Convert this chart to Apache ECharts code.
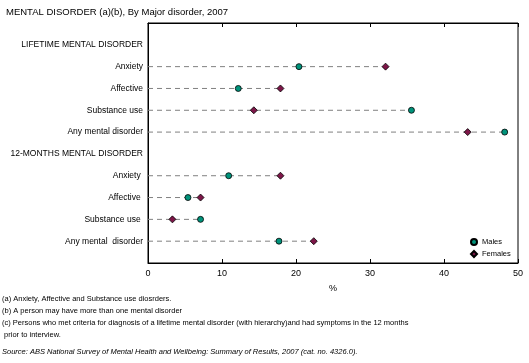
<!DOCTYPE html>
<html><head><meta charset="utf-8">
<script src="https://cdn.jsdelivr.net/npm/echarts@6/dist/echarts.min.js"></script>
<style>html,body{margin:0;padding:0;background:#fff}#c{width:529px;height:363px}</style>
</head><body><div id="c"></div>
<script>
var categories = ['', 'LIFETIME MENTAL DISORDER', 'Anxiety', 'Affective', 'Substance use', 'Any mental disorder',
  '12-MONTHS MENTAL DISORDER', 'Anxiety ', 'Affective ', 'Substance use ', 'Any mental  disorder', ' '];
var males   = [null, null, 20.4, 12.2, 35.6, 48.2, null, 10.9, 5.4, 7.1, 17.7, null];
var females = [null, null, 32.1, 17.9, 14.3, 43.2, null, 17.9, 7.1, 3.3, 22.4, null];
var xTicks = [0, 10, 20, 30, 40, 50];

var maleColor = '#00937b', femaleColor = '#7d1648';
var font = 'Liberation Sans, Arial, sans-serif';

var lineData = [];
for (var i = 0; i < categories.length; i++) {
  if (males[i] != null || females[i] != null) {
    lineData.push([Math.max(males[i] || 0, females[i] || 0), i]);
  }
}
function pts(arr) { var r = []; arr.forEach(function (v, i) { if (v != null) r.push([v, i]); }); return r; }

var chart = echarts.init(document.getElementById('c'));
chart.setOption({
  animation: false,
  textStyle: { fontFamily: font },
  grid: { left: 148, right: 11, top: 23, bottom: 100, show: true, borderColor: '#000', borderWidth: 1 },
  title: { text: 'MENTAL DISORDER (a)(b), By Major disorder, 2007', left: 1, top: 2,
    textStyle: { fontSize: 9.5, fontWeight: 'normal', color: '#000', fontFamily: font } },
  legend: { orient: 'vertical', left: 465, top: 233, itemWidth: 6, itemHeight: 6, itemGap: 4,
    textStyle: { fontSize: 7.5, color: '#000', fontFamily: font }, data: ['Males', 'Females'] },
  xAxis: [{
    type: 'value', min: xTicks[0], max: xTicks[xTicks.length - 1], interval: 10,
    name: '%', nameLocation: 'middle', nameGap: 21, nameTextStyle: { fontSize: 9, color: '#000' },
    axisLine: { show: true, lineStyle: { color: '#000' } },
    axisTick: { show: true, inside: true, length: 4, lineStyle: { color: '#000' } },
    axisLabel: { fontSize: 9, color: '#000', margin: 6 },
    splitLine: { show: false }
  }, {
    type: 'value', position: 'top', min: 0, max: 50, interval: 10,
    axisLine: { show: true, lineStyle: { color: '#000' } },
    axisTick: { show: true, inside: true, length: 4, lineStyle: { color: '#000' } },
    axisLabel: { show: false }, splitLine: { show: false }
  }],
  yAxis: {
    type: 'category', data: categories, inverse: true, boundaryGap: false,
    axisLine: { show: true, lineStyle: { color: '#000' } },
    axisTick: { show: false },
    axisLabel: { fontSize: 8.5, color: '#000', margin: 5, interval: 0 },
    splitLine: { show: false }
  },
  series: [{
    type: 'custom', silent: true, z: 1,
    data: lineData,
    renderItem: function (params, api) {
      var a = api.coord([0, api.value(1)]);
      var b = api.coord([api.value(0), api.value(1)]);
      return { type: 'line', shape: { x1: a[0], y1: a[1], x2: b[0], y2: b[1] },
        style: { stroke: '#808080', lineWidth: 1, lineDash: [5, 4] } };
    }
  }, {
    name: 'Males', type: 'scatter', symbol: 'circle', symbolSize: 6, z: 3,
    itemStyle: { color: maleColor, borderColor: '#000', borderWidth: 0.8, opacity: 1 },
    data: pts(males)
  }, {
    name: 'Females', type: 'scatter', symbol: 'diamond', symbolSize: 7, z: 3,
    itemStyle: { color: femaleColor, borderColor: '#000', borderWidth: 0.8, opacity: 1 },
    data: pts(females)
  }],
  graphic: [
    { type: 'text', left: 2, top: 295, style: { text: '(a) Anxiety, Affective and Substance use diosrders.', fontSize: 7.5, fill: '#000', fontFamily: font } },
    { type: 'text', left: 2, top: 307, style: { text: '(b) A person may have more than one mental disorder', fontSize: 7.5, fill: '#000', fontFamily: font } },
    { type: 'text', left: 2, top: 319, style: { text: '(c) Persons who met criteria for diagnosis of a lifetime mental disorder (with hierarchy)and had symptoms in the 12 months', fontSize: 7.5, fill: '#000', fontFamily: font } },
    { type: 'text', left: 2, top: 331, style: { text: ' prior to interview.', fontSize: 7.5, fill: '#000', fontFamily: font } },
    { type: 'text', left: 2, top: 348, style: { text: 'Source: ABS National Survey of Mental Health and Wellbeing: Summary of Results, 2007 (cat. no. 4326.0).', fontSize: 7.5, fontStyle: 'italic', fill: '#000', fontFamily: font } }
  ]
});
</script></body></html>
